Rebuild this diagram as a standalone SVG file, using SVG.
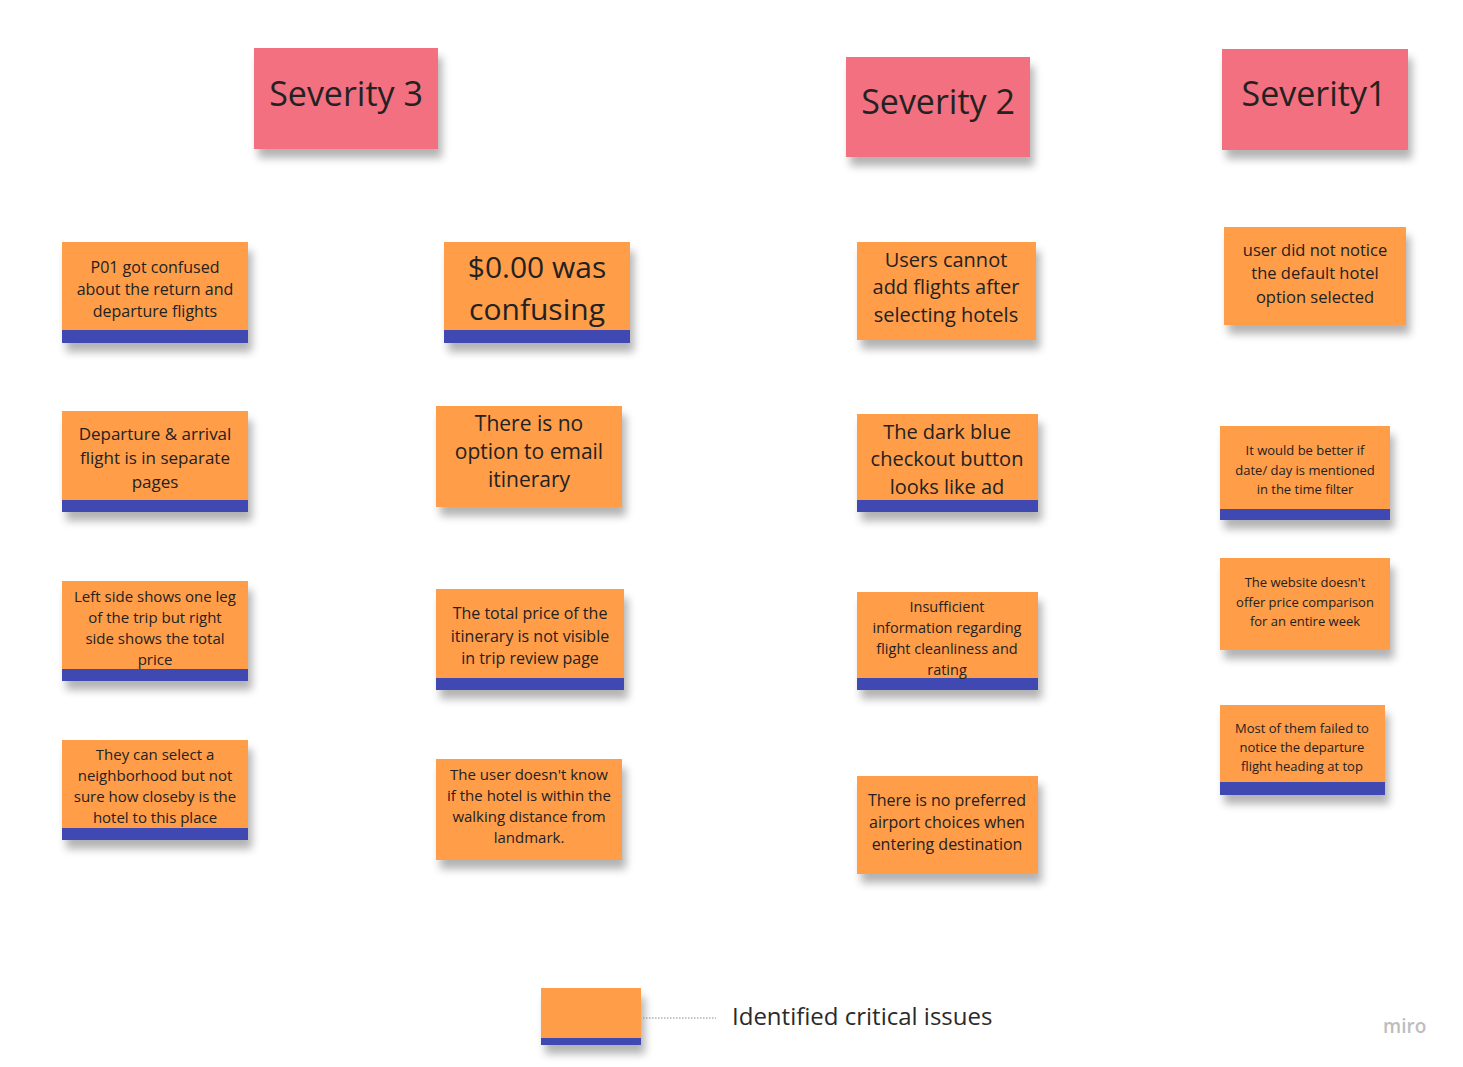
<svg xmlns="http://www.w3.org/2000/svg" width="1463" height="1067" viewBox="0 0 1463 1067">
<defs>
<filter id="sh" x="-20%" y="-20%" width="140%" height="170%">
<feGaussianBlur in="SourceAlpha" stdDeviation="4" result="b"/>
<feOffset in="b" dx="4" dy="9" result="o"/>
<feComponentTransfer in="o" result="s"><feFuncA type="linear" slope="0.3"/></feComponentTransfer>
<feMerge><feMergeNode in="s"/><feMergeNode in="SourceGraphic"/></feMerge>
</filter>
<style>
.n{fill:#FF9D48;filter:url(#sh)}
.p{fill:#F2707F;filter:url(#sh)}
.b{fill:#4048B2}
text{font-family:"Open Sans","Noto Sans","DejaVu Sans",sans-serif;fill:#222;text-anchor:middle}
.lg{text-anchor:start;fill:#2a2a2a}
.miro{font-family:"Open Sans",sans-serif;fill:#bdbdbd;font-size:19px;font-weight:600;text-anchor:start}
</style>
</defs>
<rect width="1463" height="1067" fill="#fff"/>

<g id="sev3"><rect class="p" x="254" y="48" width="184" height="101"/><text x="346" y="106" font-size="34">Severity 3</text></g>
<g id="sev2"><rect class="p" x="846" y="57" width="184" height="100"/><text x="938" y="114" font-size="34">Severity 2</text></g>
<g id="sev1"><rect class="p" x="1222" y="49" width="186" height="101"/><text x="1314" y="106" font-size="34">Severity1</text></g>

<g id="n1"><rect class="n" x="62" y="242" width="186" height="101"/><rect class="b" x="62" y="330" width="186" height="13"/>
<text font-size="16"><tspan x="155" y="273">P01 got confused</tspan><tspan x="155" y="295">about the return and</tspan><tspan x="155" y="317">departure flights</tspan></text></g>

<g id="n2"><rect class="n" x="444" y="242" width="186" height="101"/><rect class="b" x="444" y="330" width="186" height="13"/>
<text font-size="30"><tspan x="537" y="278">$0.00 was</tspan><tspan x="537" y="320">confusing</tspan></text></g>

<g id="n3"><rect class="n" x="62" y="411" width="186" height="101"/><rect class="b" x="62" y="500" width="186" height="12"/>
<text font-size="17"><tspan x="155" y="440">Departure &amp; arrival</tspan><tspan x="155" y="464">flight is in separate</tspan><tspan x="155" y="488">pages</tspan></text></g>

<g id="n4"><rect class="n" x="436" y="406" width="186" height="101"/>
<text font-size="21"><tspan x="529" y="431">There is no</tspan><tspan x="529" y="459">option to email</tspan><tspan x="529" y="487">itinerary</tspan></text></g>

<g id="n5"><rect class="n" x="62" y="581" width="186" height="100"/><rect class="b" x="62" y="669" width="186" height="12"/>
<text font-size="15"><tspan x="155" y="602">Left side shows one leg</tspan><tspan x="155" y="623">of the trip but right</tspan><tspan x="155" y="644">side shows the total</tspan><tspan x="155" y="665">price</tspan></text></g>

<g id="n6"><rect class="n" x="436" y="589" width="188" height="101"/><rect class="b" x="436" y="678" width="188" height="12"/>
<text font-size="16"><tspan x="530" y="619">The total price of the</tspan><tspan x="530" y="642">itinerary is not visible</tspan><tspan x="530" y="664">in trip review page</tspan></text></g>

<g id="n7"><rect class="n" x="62" y="740" width="186" height="100"/><rect class="b" x="62" y="828" width="186" height="12"/>
<text font-size="15"><tspan x="155" y="760">They can select a</tspan><tspan x="155" y="781">neighborhood but not</tspan><tspan x="155" y="802">sure how closeby is the</tspan><tspan x="155" y="823">hotel to this place</tspan></text></g>

<g id="n8"><rect class="n" x="436" y="759" width="186" height="101"/>
<text font-size="15"><tspan x="529" y="780">The user doesn't know</tspan><tspan x="529" y="801">if the hotel is within the</tspan><tspan x="529" y="822">walking distance from</tspan><tspan x="529" y="843">landmark.</tspan></text></g>

<g id="n9"><rect class="n" x="857" y="242" width="179" height="98"/>
<text font-size="20"><tspan x="946" y="267">Users cannot</tspan><tspan x="946" y="294">add flights after</tspan><tspan x="946" y="322">selecting hotels</tspan></text></g>

<g id="n10"><rect class="n" x="857" y="414" width="181" height="98"/><rect class="b" x="857" y="500" width="181" height="12"/>
<text font-size="20"><tspan x="947" y="439">The dark blue</tspan><tspan x="947" y="466">checkout button</tspan><tspan x="947" y="494">looks like ad</tspan></text></g>

<g id="n11"><rect class="n" x="857" y="592" width="181" height="98"/><rect class="b" x="857" y="678" width="181" height="12"/>
<text font-size="14.5"><tspan x="947" y="612">Insufficient</tspan><tspan x="947" y="633">information regarding</tspan><tspan x="947" y="654">flight cleanliness and</tspan><tspan x="947" y="675">rating</tspan></text></g>

<g id="n12"><rect class="n" x="857" y="776" width="181" height="98"/>
<text font-size="16"><tspan x="947" y="806">There is no preferred</tspan><tspan x="947" y="828">airport choices when</tspan><tspan x="947" y="850">entering destination</tspan></text></g>

<g id="n13"><rect class="n" x="1224" y="227" width="182" height="98"/>
<text font-size="16.5"><tspan x="1315" y="256">user did not notice</tspan><tspan x="1315" y="279">the default hotel</tspan><tspan x="1315" y="303">option selected</tspan></text></g>

<g id="n14"><rect class="n" x="1220" y="426" width="170" height="94"/><rect class="b" x="1220" y="509" width="170" height="11"/>
<text font-size="13"><tspan x="1305" y="455">It would be better if</tspan><tspan x="1305" y="475">date/ day is mentioned</tspan><tspan x="1305" y="494">in the time filter</tspan></text></g>

<g id="n15"><rect class="n" x="1220" y="558" width="170" height="92"/>
<text font-size="13"><tspan x="1305" y="587">The website doesn't</tspan><tspan x="1305" y="607">offer price comparison</tspan><tspan x="1305" y="626">for an entire week</tspan></text></g>

<g id="n16"><rect class="n" x="1220" y="705" width="165" height="90"/><rect class="b" x="1220" y="782" width="165" height="13"/>
<text font-size="13"><tspan x="1302" y="733">Most of them failed to</tspan><tspan x="1302" y="752">notice the departure</tspan><tspan x="1302" y="771">flight heading at top</tspan></text></g>

<g id="legend-note"><rect class="n" x="541" y="988" width="100" height="57"/><rect class="b" x="541" y="1038" width="100" height="7"/></g>

<g id="connectors"><line x1="643" y1="1018" x2="716" y2="1018" stroke="#888" stroke-width="1" stroke-dasharray="1.5,1.5"/></g>

<g id="legend-label"><text class="lg" x="732" y="1025" font-size="24">Identified critical issues</text></g>
<text class="miro" x="1383" y="1033">miro</text>
</svg>
